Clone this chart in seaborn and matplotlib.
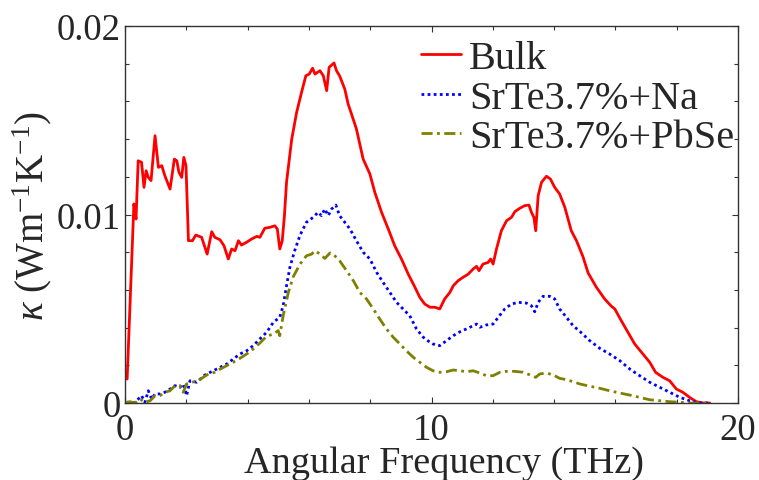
import matplotlib
matplotlib.use("Agg")
import matplotlib.pyplot as plt
from matplotlib.ticker import MultipleLocator
import seaborn as sns
import pandas as pd

# ---------------- data ----------------
bulk_x = [0.07, 0.29, 0.36, 0.43, 0.54, 0.62, 0.69, 0.76, 0.85, 0.98, 1.09, 1.2, 1.3, 1.47, 1.61, 1.69,
          1.76, 1.85, 1.92, 1.99, 2.07, 2.2, 2.31, 2.5, 2.68, 2.83, 2.93, 3.1, 3.23, 3.37, 3.48, 3.59,
          3.7, 3.8, 3.97, 4.13, 4.3, 4.4, 4.56, 4.73, 4.89, 4.97, 5.05, 5.13, 5.2, 5.27, 5.44, 5.6,
          5.76, 5.9, 6.01, 6.12, 6.2, 6.36, 6.47, 6.58, 6.66, 6.82, 6.9, 7.0, 7.17, 7.28, 7.39, 7.55,
          7.66, 7.77, 7.99, 8.15, 8.37, 8.59, 8.8, 9.02, 9.24, 9.46, 9.62, 9.78, 9.95, 10.11, 10.27,
          10.43, 10.6, 10.71, 10.87, 11.03, 11.2, 11.36, 11.47, 11.55, 11.68, 11.85, 11.93, 12.01,
          12.12, 12.28, 12.45, 12.61, 12.72, 12.88, 13.04, 13.18, 13.26, 13.34, 13.4, 13.48, 13.59,
          13.75, 13.88, 14.02, 14.18, 14.35, 14.56, 14.73, 14.94, 15.11, 15.38, 15.65, 15.87, 15.98,
          16.19, 16.41, 16.63, 16.9, 17.12, 17.31, 17.55, 17.77, 17.99, 18.2, 18.42, 18.64, 18.86, 19.08]
bulk_y = [0.00127, 0.01056, 0.00976, 0.01285, 0.01277, 0.01144, 0.01232, 0.01197, 0.01180, 0.01418,
          0.01250, 0.01259, 0.01206, 0.01135, 0.01294, 0.01285, 0.01224, 0.01197, 0.01303, 0.01259,
          0.00861, 0.00861, 0.00891, 0.00879, 0.00790, 0.00909, 0.00879, 0.00866, 0.00834, 0.00764,
          0.00817, 0.00808, 0.00861, 0.00838, 0.00853, 0.00870, 0.00884, 0.00879, 0.00927, 0.00932,
          0.00940, 0.00923, 0.00817, 0.00860, 0.00990, 0.01171, 0.01400, 0.01542, 0.01648, 0.01736,
          0.01745, 0.01776, 0.01745, 0.01763, 0.01736, 0.01657, 0.01781, 0.01804, 0.01763, 0.01736,
          0.01666, 0.01586, 0.01533, 0.01454, 0.01374, 0.01294, 0.01215, 0.01118, 0.01012, 0.00923,
          0.00834, 0.00764, 0.00684, 0.00614, 0.00560, 0.00525, 0.00508, 0.00508, 0.00499, 0.00552,
          0.00587, 0.00622, 0.00649, 0.00667, 0.00684, 0.00711, 0.00725, 0.00702, 0.00737, 0.00746,
          0.00764, 0.00737, 0.00817, 0.00914, 0.00967, 0.00985, 0.01015, 0.01033, 0.01047, 0.01050,
          0.01012, 0.00985, 0.00914, 0.01100, 0.01171, 0.01203, 0.01188, 0.01144, 0.01109, 0.01038,
          0.00914, 0.00861, 0.00777, 0.00690, 0.00614, 0.00552, 0.00513, 0.00499, 0.00437, 0.00375,
          0.00313, 0.00260, 0.00216, 0.00163, 0.00136, 0.00118, 0.00074, 0.00057, 0.00030, 0.00007,
          0.0, 0.0]

na_x = [0.05, 0.33, 0.54, 0.65, 0.76, 0.87, 0.98, 1.14, 1.3, 1.47, 1.63, 1.79, 1.9, 2.01, 2.12, 2.34,
        2.61, 2.88, 3.1, 3.32, 3.53, 3.75, 3.97, 4.18, 4.4, 4.62, 4.84, 5.05, 5.16, 5.27, 5.38, 5.54,
        5.71, 5.92, 6.14, 6.3, 6.41, 6.52, 6.63, 6.74, 6.88, 7.0, 7.17, 7.34, 7.55, 7.77, 7.99, 8.21,
        8.42, 8.64, 8.86, 9.07, 9.29, 9.51, 9.73, 9.95, 10.05, 10.27, 10.49, 10.71, 10.93, 11.14,
        11.36, 11.47, 11.58, 11.79, 12.01, 12.18, 12.39, 12.61, 12.83, 13.1, 13.26, 13.37, 13.48,
        13.64, 13.86, 14.02, 14.18, 14.4, 14.62, 14.84, 15.16, 15.49, 15.81, 16.14, 16.47, 16.79,
        17.12, 17.45, 17.77, 18.1, 18.42, 18.75, 19.08]
na_y = [0.0, 0.00004, 0.00039, 0.00004, 0.00065, 0.00021, 0.00048, 0.00048, 0.00057, 0.00074,
        0.00092, 0.00083, 0.00101, 0.00039, 0.00118, 0.00110, 0.00149, 0.00171, 0.00189, 0.00207,
        0.00233, 0.00260, 0.00277, 0.00304, 0.00340, 0.00375, 0.00428, 0.00455, 0.00516, 0.00622,
        0.00720, 0.00810, 0.00890, 0.00959, 0.00985, 0.01012, 0.00994, 0.01029, 0.00994, 0.01029,
        0.01050, 0.00994, 0.00959, 0.00923, 0.00861, 0.00800, 0.00764, 0.00693, 0.00640, 0.00587,
        0.00534, 0.00499, 0.00463, 0.00393, 0.00349, 0.00322, 0.00313, 0.00304, 0.00331, 0.00357,
        0.00378, 0.00393, 0.00410, 0.00419, 0.00402, 0.00414, 0.00419, 0.00455, 0.00499, 0.00525,
        0.00534, 0.00530, 0.00516, 0.00484, 0.00534, 0.00566, 0.00566, 0.00552, 0.00499, 0.00455,
        0.00410, 0.00380, 0.00331, 0.00290, 0.00260, 0.00225, 0.00180, 0.00145, 0.00110, 0.00083,
        0.00057, 0.00030, 0.00012, 0.0, 0.0]

pbse_x = [0.05, 0.16, 0.33, 0.49, 0.65, 0.82, 0.98, 1.14, 1.3, 1.47, 1.63, 1.79, 1.9, 2.01, 2.18,
          2.39, 2.55, 2.72, 2.93, 3.1, 3.32, 3.53, 3.75, 3.97, 4.18, 4.4, 4.62, 4.84, 5.0, 5.05, 5.16,
          5.33, 5.49, 5.71, 5.92, 6.09, 6.2, 6.36, 6.52, 6.69, 6.79, 7.0, 7.23, 7.45, 7.66, 7.88, 8.1,
          8.31, 8.53, 8.75, 8.97, 9.18, 9.4, 9.62, 9.84, 10.05, 10.27, 10.49, 10.71, 10.93, 11.14,
          11.36, 11.58, 11.79, 12.01, 12.23, 12.45, 12.72, 12.99, 13.21, 13.4, 13.53, 13.75, 13.97,
          14.18, 14.4, 14.62, 14.84, 15.16, 15.49, 15.81, 16.14, 16.47, 16.79, 17.12, 17.45, 17.77,
          18.1, 18.42, 18.75, 19.08]
pbse_y = [0.00004, 0.00007, 0.0, 0.00021, 0.00004, 0.00012, 0.00039, 0.00039, 0.00057, 0.00065,
          0.00092, 0.00092, 0.00057, 0.00101, 0.00110, 0.00118, 0.00136, 0.00154, 0.00163, 0.00180,
          0.00198, 0.00216, 0.00237, 0.00260, 0.00286, 0.00318, 0.00354, 0.00366, 0.00384, 0.00357,
          0.00463, 0.00587, 0.00670, 0.00737, 0.00781, 0.00790, 0.00808, 0.00790, 0.00767, 0.00796,
          0.00790, 0.00755, 0.00702, 0.00649, 0.00587, 0.00552, 0.00499, 0.00446, 0.00393, 0.00349,
          0.00313, 0.00277, 0.00243, 0.00216, 0.00189, 0.00171, 0.00163, 0.00166, 0.00175, 0.00171,
          0.00166, 0.00171, 0.00159, 0.00145, 0.00145, 0.00163, 0.00168, 0.00168, 0.00163, 0.00149,
          0.00136, 0.00154, 0.00159, 0.00149, 0.00131, 0.00124, 0.00113, 0.00101, 0.00089, 0.00078,
          0.00065, 0.00053, 0.00042, 0.00030, 0.00017, 0.00012, 0.00007, 0.00004, 0.0, 0.0, 0.0]

series_names = ["Bulk", "SrTe3.7%+Na", "SrTe3.7%+PbSe"]
x_ticks = [0, 10, 20]
x_ticklabels = ["0", "10", "20"]
y_ticks = [0, 0.01, 0.02]
y_ticklabels = ["0", "0.01", "0.02"]

# ---------------- style ----------------
sns.set_style("ticks")
plt.rcParams["font.family"] = ["Liberation Serif", "DejaVu Serif"]
plt.rcParams["mathtext.fontset"] = "custom"
plt.rcParams["mathtext.rm"] = "Liberation Serif"
plt.rcParams["mathtext.it"] = "Liberation Serif:italic"

fig = plt.figure(figsize=(7.59, 4.81), dpi=100)
ax = fig.add_axes([125 / 759, 1 - 404 / 481, (738 - 125) / 759, (404 - 27) / 481])

styles = [
    dict(color="#ff0000", linestyle="-"),
    dict(color="#0000ff", linestyle=(0, (1, 1.2))),
    dict(color="#808000", linestyle=(0, (4, 1.6, 1, 1.6))),
]
xs = [bulk_x, na_x, pbse_x]
ys = [bulk_y, na_y, pbse_y]
for name, x, y, st in zip(series_names, xs, ys, styles):
    df = pd.DataFrame({"x": x, "y": y})
    sns.lineplot(data=df, x="x", y="y", ax=ax, label=name, linewidth=2.0,
                 estimator=None, sort=False, **st)

ax.set_xlim(0, 20)
ax.set_ylim(0, 0.02)
ax.set_xticks(x_ticks)
ax.set_xticklabels(x_ticklabels)
ax.set_yticks(y_ticks)
ax.set_yticklabels(y_ticklabels)
ax.xaxis.set_minor_locator(MultipleLocator(2))
ax.yaxis.set_minor_locator(MultipleLocator(0.002))
ax.tick_params(which="both", direction="in", top=True, right=True, width=0.8, color="#333333")
ax.tick_params(which="major", length=4, labelsize=26.5, pad=3)
ax.tick_params(which="minor", length=3)
ax.tick_params(axis="x", which="major", pad=6.5)
for s in ax.spines.values():
    s.set_linewidth(1.0)
    s.set_color("#333333")

ax.set_xlabel("Angular Frequency (THz)", fontsize=27.5)
ax.xaxis.set_label_coords(0.52, -0.112)
ax.set_ylabel(r"$\kappa$ (Wm$^{-1}$K$^{-1}$)", fontsize=28, labelpad=2)

leg = ax.legend(loc="upper right", bbox_to_anchor=(1.0, 0.973), frameon=False, fontsize=29,
                handlelength=1.0, handletextpad=0.2, labelspacing=0.05, borderpad=0.1,
                borderaxespad=0.0)

fig.savefig("out.png", dpi=100)
